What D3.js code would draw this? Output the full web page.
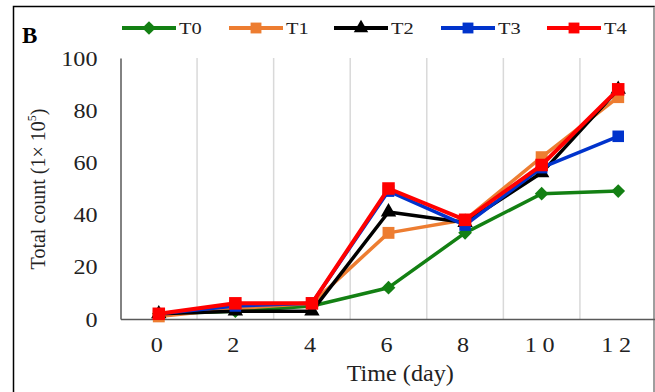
<!DOCTYPE html>
<html>
<head>
<meta charset="utf-8">
<script src="https://cdn.jsdelivr.net/npm/d3@7/dist/d3.min.js"></script>
<style>
  html, body { margin: 0; padding: 0; background: #fff; }
  svg { display: block; font-family: "Liberation Serif", "Times New Roman", serif; }
</style>
</head>
<body>
<svg id="chart" width="655" height="392"></svg>
<script>
// Sampling days and total counts (×10^5) per treatment
const days = ["0", "2", "4", "6", "8", "10", "12"];
const seriesNames = ["T0", "T1", "T2", "T3", "T4"];
const t0 = [2, 3, 5, 12, 33, 48, 49];
const t1 = [1, 4, 6, 33, 38, 62, 85];
const t2 = [2, 3, 3, 41, 37, 56, 88];
const t3 = [2, 5, 6, 49, 36, 58, 70];
const t4 = [2, 6, 6, 50, 38, 59, 88];
const yTicks = [0, 20, 40, 60, 80, 100];

const seriesValues = [t0, t1, t2, t3, t4];
const colors = ["#138013", "#ed7d31", "#000000", "#0033cc", "#ff0000"];
const shapes = [d3.symbolDiamond2, d3.symbolSquare2, d3.symbolTriangle2, d3.symbolSquare2, d3.symbolSquare2];

const svg = d3.select("#chart");
const plot = { left: 120.5, right: 656.5, top: 58, bottom: 319 };
const SX = 1.15; // horizontal widening of the serif labels

// Outer frame
svg.append("rect")
  .attr("x", 13.5).attr("y", 6.5)
  .attr("width", 640.5).attr("height", 400)
  .attr("fill", "none").attr("stroke", "#000").attr("stroke-width", 1.5);
svg.append("line")
  .attr("x1", 654).attr("x2", 654).attr("y1", 7).attr("y2", 392)
  .attr("stroke", "#bfbfbf").attr("stroke-width", 1.5);

const x = d3.scaleBand().domain(days).range([plot.left, plot.right]);
const y = d3.scaleLinear().domain([0, 100]).range([plot.bottom, plot.top]);

// Vertical gridlines between day categories
svg.append("g")
  .selectAll("line")
  .data(days.slice(1))
  .join("line")
  .attr("x1", d => x(d)).attr("x2", d => x(d))
  .attr("y1", plot.top).attr("y2", plot.bottom)
  .attr("stroke", "#d9d9d9").attr("stroke-width", 1.5);

// Y axis
const yAxis = svg.append("g")
  .attr("transform", `translate(${plot.left},0)`)
  .call(d3.axisLeft(y).tickValues(yTicks).tickSize(0));
yAxis.select(".domain").attr("stroke", "#595959").attr("stroke-width", 1.5);
yAxis.selectAll("text")
  .attr("font-family", "Liberation Serif, serif")
  .attr("font-size", 21).attr("fill", "#222")
  .attr("x", -23 / SX)
  .attr("dy", "0.34em")
  .attr("transform", `scale(${SX},1)`);

// X axis
const xAxis = svg.append("g")
  .attr("transform", `translate(0,${plot.bottom})`)
  .call(d3.axisBottom(x).tickSize(0).tickPadding(18));
xAxis.select(".domain").attr("stroke", "#595959").attr("stroke-width", 1.5);
xAxis.selectAll("text")
  .attr("font-family", "Liberation Serif, serif")
  .attr("font-size", 21).attr("fill", "#222")
  .attr("transform", `translate(-2,0) scale(${SX},1)`)
  .attr("letter-spacing", d => d.length > 1 ? 5 : 0)
  .attr("dx", d => d.length > 1 ? 2.5 : 0);

// Axis titles
svg.append("text")
  .attr("transform", `translate(${(plot.left + 656) / 2 + 12},381) scale(1.05,1)`)
  .attr("text-anchor", "middle")
  .attr("font-size", 23).attr("fill", "#222")
  .text("Time (day)");

const yTitle = svg.append("text")
  .attr("transform", "translate(45,189) rotate(-90) scale(1,1.1)")
  .attr("text-anchor", "middle")
  .attr("font-size", 20).attr("fill", "#222");
yTitle.append("tspan").text("Total count (1\u00d7 10");
yTitle.append("tspan").attr("font-size", 12).attr("dy", -8).text("5");
yTitle.append("tspan").attr("dy", 8).text(")");

// Panel letter
svg.append("text")
  .attr("x", 22).attr("y", 43)
  .attr("font-size", 23).attr("font-weight", "bold").attr("fill", "#000")
  .text("B");

// Series lines and markers
const line = d3.line()
  .x((d, i) => x(days[i]) + x.bandwidth() / 2)
  .y(d => y(d));

const markerSize = [120, 180, 170, 170, 200];
const lineWidth = [3.5, 3.5, 3.5, 3.5, 4];

seriesValues.forEach((vals, s) => {
  const g = svg.append("g");
  g.append("path")
    .datum(vals)
    .attr("d", line)
    .attr("fill", "none")
    .attr("stroke", colors[s])
    .attr("stroke-width", lineWidth[s])
    .attr("stroke-linejoin", "round");
  g.selectAll("path.marker")
    .data(vals)
    .join("path")
    .attr("class", "marker")
    .attr("transform", (d, i) => `translate(${x(days[i]) + x.bandwidth() / 2},${y(d)})`)
    .attr("d", d3.symbol().type(shapes[s]).size(markerSize[s]))
    .attr("fill", colors[s]);
});

// Legend
const legendX = [122, 229, 334, 441, 547];
const legend = svg.append("g");
seriesNames.forEach((name, s) => {
  const lg = legend.append("g").attr("transform", `translate(${legendX[s]},28)`);
  lg.append("line")
    .attr("x1", 0).attr("x2", 54)
    .attr("stroke", colors[s]).attr("stroke-width", 4);
  lg.append("path")
    .attr("transform", "translate(27,0)")
    .attr("d", d3.symbol().type(shapes[s]).size(s === 0 ? 120 : 150))
    .attr("fill", colors[s]);
  lg.append("text")
    .attr("transform", "translate(57,6) scale(1.2,1)")
    .attr("font-size", 17).attr("fill", "#222")
    .text(name);
});
</script>
</body>
</html>
